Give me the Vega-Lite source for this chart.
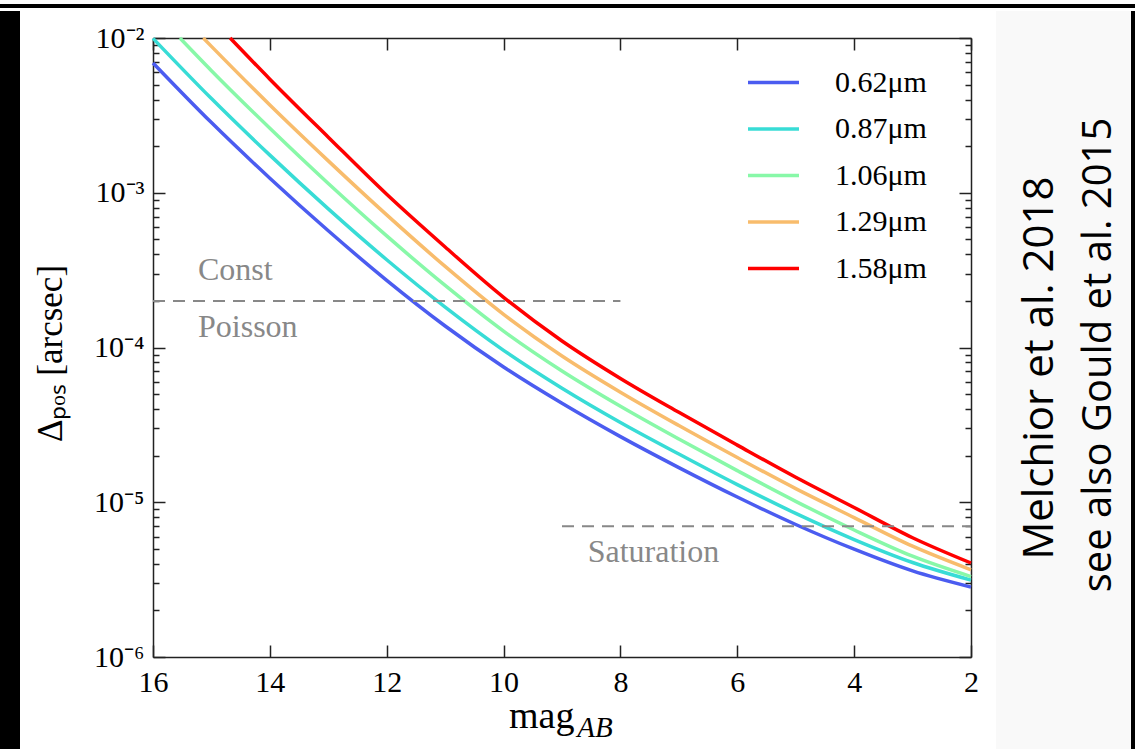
{
  "$schema": "https://vega.github.io/schema/vega-lite/v6.json",
  "padding": 0,
  "background": "white",
  "spacing": 0,
  "config": {
    "view": {"stroke": null},
    "concat": {"spacing": 0},
    "axis": {"grid": false, "labelFont": "Liberation Serif", "titleFont": "Liberation Serif", "labelColor": "black", "titleColor": "black", "titleFontWeight": "normal", "domainColor": "#222", "domainWidth": 1.5, "tickColor": "#222", "tickWidth": 1.5}
  },
  "datasets": {
    "curves": [
      {"band": "0.62μm", "mag": 16, "val": 0.0069},
      {"band": "0.62μm", "mag": 15, "val": 0.00284},
      {"band": "0.62μm", "mag": 14, "val": 0.001242},
      {"band": "0.62μm", "mag": 13, "val": 0.000568},
      {"band": "0.62μm", "mag": 12, "val": 0.0002716},
      {"band": "0.62μm", "mag": 11, "val": 0.0001377},
      {"band": "0.62μm", "mag": 10, "val": 0.0000748},
      {"band": "0.62μm", "mag": 9, "val": 0.0000436},
      {"band": "0.62μm", "mag": 8, "val": 0.00002655},
      {"band": "0.62μm", "mag": 7, "val": 0.00001675},
      {"band": "0.62μm", "mag": 6, "val": 0.00001081},
      {"band": "0.62μm", "mag": 5, "val": 0.00000718},
      {"band": "0.62μm", "mag": 4, "val": 0.00000497},
      {"band": "0.62μm", "mag": 3, "val": 0.0000036},
      {"band": "0.62μm", "mag": 2, "val": 0.00000283},
      {"band": "0.87μm", "mag": 16, "val": 0.00995},
      {"band": "0.87μm", "mag": 15, "val": 0.00406},
      {"band": "0.87μm", "mag": 14, "val": 0.00175},
      {"band": "0.87μm", "mag": 13, "val": 0.000787},
      {"band": "0.87μm", "mag": 12, "val": 0.000369},
      {"band": "0.87μm", "mag": 11, "val": 0.0001824},
      {"band": "0.87μm", "mag": 10, "val": 0.0000959},
      {"band": "0.87μm", "mag": 9, "val": 0.0000546},
      {"band": "0.87μm", "mag": 8, "val": 0.0000328},
      {"band": "0.87μm", "mag": 7, "val": 0.0000205},
      {"band": "0.87μm", "mag": 6, "val": 0.0000130},
      {"band": "0.87μm", "mag": 5, "val": 0.00000847},
      {"band": "0.87μm", "mag": 4, "val": 0.00000574},
      {"band": "0.87μm", "mag": 3, "val": 0.00000408},
      {"band": "0.87μm", "mag": 2, "val": 0.00000314},
      {"band": "1.06μm", "mag": 15.54, "val": 0.0100},
      {"band": "1.06μm", "mag": 15, "val": 0.00615},
      {"band": "1.06μm", "mag": 14, "val": 0.00261},
      {"band": "1.06μm", "mag": 13, "val": 0.001148},
      {"band": "1.06μm", "mag": 12, "val": 0.000526},
      {"band": "1.06μm", "mag": 11, "val": 0.0002518},
      {"band": "1.06μm", "mag": 10, "val": 0.0001276},
      {"band": "1.06μm", "mag": 9, "val": 0.0000705},
      {"band": "1.06μm", "mag": 8, "val": 0.0000417},
      {"band": "1.06μm", "mag": 7, "val": 0.0000256},
      {"band": "1.06μm", "mag": 6, "val": 0.0000160},
      {"band": "1.06μm", "mag": 5, "val": 0.00001014},
      {"band": "1.06μm", "mag": 4, "val": 0.00000662},
      {"band": "1.06μm", "mag": 3, "val": 0.00000448},
      {"band": "1.06μm", "mag": 2, "val": 0.00000331},
      {"band": "1.29μm", "mag": 15.14, "val": 0.0100},
      {"band": "1.29μm", "mag": 15, "val": 0.00883},
      {"band": "1.29μm", "mag": 14, "val": 0.00369},
      {"band": "1.29μm", "mag": 13, "val": 0.001607},
      {"band": "1.29μm", "mag": 12, "val": 0.000719},
      {"band": "1.29μm", "mag": 11, "val": 0.000334},
      {"band": "1.29μm", "mag": 10, "val": 0.0001637},
      {"band": "1.29μm", "mag": 9, "val": 0.0000881},
      {"band": "1.29μm", "mag": 8, "val": 0.0000514},
      {"band": "1.29μm", "mag": 7, "val": 0.0000313},
      {"band": "1.29μm", "mag": 6, "val": 0.00001945},
      {"band": "1.29μm", "mag": 5, "val": 0.00001225},
      {"band": "1.29μm", "mag": 4, "val": 0.00000796},
      {"band": "1.29μm", "mag": 3, "val": 0.0000052},
      {"band": "1.29μm", "mag": 2, "val": 0.00000366},
      {"band": "1.58μm", "mag": 14.68, "val": 0.0100},
      {"band": "1.58μm", "mag": 14, "val": 0.00542},
      {"band": "1.58μm", "mag": 13, "val": 0.002286},
      {"band": "1.58μm", "mag": 12, "val": 0.000977},
      {"band": "1.58μm", "mag": 11, "val": 0.000446},
      {"band": "1.58μm", "mag": 10, "val": 0.000211},
      {"band": "1.58μm", "mag": 9, "val": 0.0001102},
      {"band": "1.58μm", "mag": 8, "val": 0.0000631},
      {"band": "1.58μm", "mag": 7, "val": 0.0000381},
      {"band": "1.58μm", "mag": 6, "val": 0.0000234},
      {"band": "1.58μm", "mag": 5, "val": 0.00001449},
      {"band": "1.58μm", "mag": 4, "val": 0.00000925},
      {"band": "1.58μm", "mag": 3, "val": 0.0000059},
      {"band": "1.58μm", "mag": 2, "val": 0.00000405}
    ],
    "dashes": [
      {"name": "Const/Poisson", "from": 16, "to": 8, "val": 0.0002},
      {"name": "Saturation", "from": 9, "to": 2, "val": 0.000007}
    ],
    "notes": [
      {"label": "Const", "mag": 15.23, "val": 0.000273},
      {"label": "Poisson", "mag": 15.23, "val": 0.000117},
      {"label": "Saturation", "mag": 8.56, "val": 0.00000411}
    ],
    "sub": [
      {"t": "AB", "mag": 8.74, "val": 0.000001}
    ],
    "cite": [
      {"line": "1", "t": "Melchior et al. 2018"},
      {"line": "2", "t": "see also Gould et al. 2015"}
    ],
    "blank": [{"t": ""}]
  },
  "vconcat": [
    {
      "width": 1135, "height": 4, "view": {"fill": "black"},
      "data": {"name": "blank"}, "mark": "text", "encoding": {"text": {"field": "t"}}
    },
    {
      "spacing": 0,
      "hconcat": [
        {"width": 20, "height": 745, "view": {"fill": "black"}, "data": {"name": "blank"}, "mark": "text", "encoding": {"text": {"field": "t"}}},
        {"width": 13, "height": 745, "view": {"fill": "white"}, "data": {"name": "blank"}, "mark": "text", "encoding": {"text": {"field": "t"}}},
        {
          "spacing": 0,
          "vconcat": [
            {"width": 10, "height": 12, "view": {"fill": "white"}, "data": {"name": "blank"}, "mark": "text", "encoding": {"text": {"field": "t"}}},
            {
              "width": 818, "height": 619,
              "resolve": {"axis": {"x": "independent", "y": "independent"}},
              "layer": [
                {
                  "data": {"name": "curves"},
                  "mark": {"type": "line", "strokeWidth": 3.5, "interpolate": "monotone"},
                  "encoding": {
                    "x": {"field": "mag", "type": "quantitative",
                      "scale": {"domain": [2, 16], "reverse": true, "nice": false, "zero": false},
                      "axis": {"orient": "bottom", "values": [16, 14, 12, 10, 8, 6, 4, 2], "format": "d", "labelFontSize": 30, "labelPadding": 22, "tickSize": -12,
                        "title": "mag", "titleFontSize": 38, "titleX": 421, "titleY": 70, "titleAlign": "right", "titleBaseline": "alphabetic", "labelFlush": false}},
                    "y": {"field": "val", "type": "quantitative",
                      "scale": {"type": "log", "domain": [0.000001, 0.01], "nice": false},
                      "axis": {"orient": "left",
                        "values": [0.000001, 0.000002, 0.000003, 0.000004, 0.000005, 0.000006, 0.000007, 0.000008, 0.000009, 0.00001, 0.00002, 0.00003, 0.00004, 0.00005, 0.00006, 0.00007, 0.00008, 0.00009, 0.0001, 0.0002, 0.0003, 0.0004, 0.0005, 0.0006, 0.0007, 0.0008, 0.0009, 0.001, 0.002, 0.003, 0.004, 0.005, 0.006, 0.007, 0.008, 0.009, 0.01],
                        "labelExpr": "abs(log(datum.value)/LN10 - round(log(datum.value)/LN10)) > 0.01 ? '' : '10' + (round(log(datum.value)/LN10) == -2 ? '\u207b\u00b2' : round(log(datum.value)/LN10) == -3 ? '\u207b\u00b3' : round(log(datum.value)/LN10) == -4 ? '\u207b\u2074' : round(log(datum.value)/LN10) == -5 ? '\u207b\u2075' : '\u207b\u2076')",
                        "labelFontSize": 30, "labelPadding": 21, "labelFlush": false, "labelOverlap": false,
                        "tickSize": {"condition": {"test": "abs(log(datum.value)/LN10 - round(log(datum.value)/LN10)) < 0.01", "value": -12}, "value": -6},
                        "title": "Δₚₒₛ [arcsec]", "titleFontSize": 35, "titleX": -92, "titleY": 315, "titleAngle": 270, "titleAlign": "center", "titleBaseline": "alphabetic"}},
                    "color": {"field": "band", "type": "nominal",
                      "scale": {"domain": ["0.62μm", "0.87μm", "1.06μm", "1.29μm", "1.58μm"], "range": ["#4b5cf0", "#38dcd6", "#88f8a8", "#f8bc6c", "#ff0000"]},
                      "legend": {"orient": "none", "legendX": 746, "legendY": 51, "title": null, "symbolType": "stroke", "symbolSize": 2600, "symbolStrokeWidth": 3.5, "labelFont": "Liberation Serif", "labelFontSize": 30, "labelColor": "black", "labelOffset": 34, "rowPadding": 3.5, "padding": 0}}
                  }
                },
                {
                  "data": {"name": "dashes"},
                  "mark": {"type": "rule", "color": "#888888", "strokeWidth": 2, "strokeDash": [12, 8]},
                  "encoding": {
                    "x": {"field": "from", "type": "quantitative",
                      "scale": {"domain": [2, 16], "reverse": true, "nice": false, "zero": false},
                      "axis": {"orient": "top", "values": [16, 14, 12, 10, 8, 6, 4, 2], "labels": false, "tickSize": -12, "title": null}},
                    "x2": {"field": "to"},
                    "y": {"field": "val", "type": "quantitative",
                      "scale": {"type": "log", "domain": [0.000001, 0.01], "nice": false},
                      "axis": {"orient": "right",
                        "values": [0.000001, 0.000002, 0.000003, 0.000004, 0.000005, 0.000006, 0.000007, 0.000008, 0.000009, 0.00001, 0.00002, 0.00003, 0.00004, 0.00005, 0.00006, 0.00007, 0.00008, 0.00009, 0.0001, 0.0002, 0.0003, 0.0004, 0.0005, 0.0006, 0.0007, 0.0008, 0.0009, 0.001, 0.002, 0.003, 0.004, 0.005, 0.006, 0.007, 0.008, 0.009, 0.01],
                        "labels": false, "title": null,
                        "tickSize": {"condition": {"test": "abs(log(datum.value)/LN10 - round(log(datum.value)/LN10)) < 0.01", "value": -12}, "value": -6}}}
                  }
                },
                {
                  "data": {"name": "notes"},
                  "mark": {"type": "text", "font": "Liberation Serif", "fontSize": 32, "color": "#888888", "align": "left", "baseline": "alphabetic"},
                  "encoding": {
                    "x": {"field": "mag", "type": "quantitative", "axis": null},
                    "y": {"field": "val", "type": "quantitative", "axis": null},
                    "text": {"field": "label"}
                  }
                },
                {
                  "data": {"name": "sub"},
                  "mark": {"type": "text", "font": "Liberation Serif", "fontSize": 29, "fontStyle": "italic", "color": "black", "align": "left", "baseline": "alphabetic", "dy": 80},
                  "encoding": {
                    "x": {"field": "mag", "type": "quantitative", "axis": null},
                    "y": {"field": "val", "type": "quantitative", "axis": null},
                    "text": {"field": "t"}
                  }
                }
              ]
            }
          ]
        },
        {"width": 17, "height": 745, "view": {"fill": "white"}, "data": {"name": "blank"}, "mark": "text", "encoding": {"text": {"field": "t"}}},
        {
          "width": 135, "height": 745, "view": {"fill": "#f9f9f9"},
          "data": {"name": "cite"},
          "mark": {"type": "text", "angle": 270, "font": "Open Sans", "align": "center", "baseline": "alphabetic", "color": "black"},
          "encoding": {
            "x": {"field": "line", "type": "ordinal", "scale": {"type": "point", "range": [57, 115], "padding": 0}, "axis": null},
            "y": {"field": "line", "type": "ordinal", "scale": {"type": "point", "range": [357, 344], "padding": 0}, "axis": null},
            "text": {"field": "t"},
            "size": {"condition": {"test": "datum.line == '2'", "value": 40}, "value": 42}
          }
        },
        {"width": 6, "height": 745, "view": {"fill": "black"}, "data": {"name": "blank"}, "mark": "text", "encoding": {"text": {"field": "t"}}}
      ]
    }
  ]
}
